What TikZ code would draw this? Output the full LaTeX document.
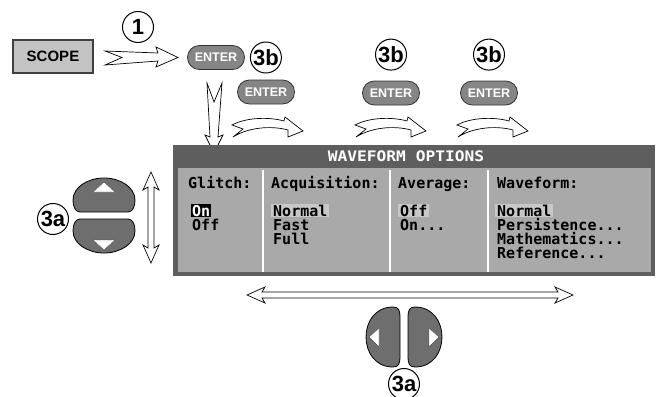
\documentclass[tikz,border=0pt]{standalone}
\usepackage{fontspec}
\setmainfont{Liberation Sans}
\newfontfamily\lcdfont{DejaVu Sans Mono}
\newfontfamily\lcdtitle{DejaVu Sans Mono}[FakeStretch=1.12]
\usetikzlibrary{positioning}

\definecolor{keygray}{HTML}{6E6E6E}
\definecolor{entergray}{HTML}{858585}
\definecolor{scopegray}{HTML}{C3C3C3}
\definecolor{framegray}{HTML}{5E5E5E}
\definecolor{lcdgray}{HTML}{A9A9A9}
\definecolor{selgray}{HTML}{C8C8C8}

\begin{document}
\begin{tikzpicture}[x=1pt, y=-1pt,
	enterbtn/.style={rounded corners=11.9pt, draw=black!80, line width=0.8pt, fill=entergray, text=white, font=\bfseries\fontsize{12.5}{12.5}\selectfont, minimum width=57pt, minimum height=24pt, inner sep=0pt},
	steplabel/.style={circle, draw, line width=1pt, minimum size=31pt, inner sep=0pt, font=\bfseries\fontsize{22}{22}\selectfont},
	lcd/.style={anchor=base west, inner sep=1pt, font=\lcdfont\bfseries\fontsize{15}{15}\selectfont},
	sel/.style={fill=selgray, inner xsep=2pt},
	hollow/.style={draw=black, fill=white, line width=0.7pt},
	keybtn/.style={draw=black, fill=keygray, line width=0.8pt},
	arrowtri/.style={draw=black!70, fill=white, line width=0.4pt}]
		\useasboundingbox (0,0) rectangle (660,396);
		
		% keys on top
		\node[draw=black!75, line width=1.2pt, fill=scopegray, minimum width=80pt, minimum height=33pt, font=\bfseries\fontsize{15}{15}\selectfont] (scope) at (53,56.5) {SCOPE};
		\node[steplabel] (one) at (138,27) {1};
		\node[enterbtn] (e1) at (216,57.5) {ENTER};
		\node[steplabel, right=5pt of e1] (s1) {3b};
		\node[enterbtn] (e2) at (266,92) {ENTER};
		\node[enterbtn] (e3) at (391,93) {ENTER};
		\node[enterbtn] (e4) at (489,93) {ENTER};
		\node[steplabel, above=10pt of e3] (s3) {3b};
		\node[steplabel, above=10pt of e4] (s4) {3b};
		
		\draw[hollow] (105,51) -- (122,57.5) -- (105,65) -- (158,61) -- (156,67) -- (178,57.5) -- (156,47) -- (158,53) -- cycle;
		\draw[hollow] (207,83) -- (214,102) -- (222,83) -- (218,137) -- (223,135) -- (214,153) -- (205,135) -- (210,137) -- cycle;
		\foreach \x in {232,355,457}
			\draw[hollow, shift={(\x,117)}] (0,8) .. controls (15,0) and (38,0) .. (52,4) -- (53,0) -- (71,14) -- (56,20) -- (56,13) .. controls (38,8) and (15,11) .. (1,20) -- (11,12) -- cycle;
		
		% menu window
		\fill[framegray] (173,145) rectangle (655,276);
		\fill[lcdgray] (178,168) rectangle (651,272);
		\foreach \x in {263,390,488}
			\draw[white, line width=2pt] (\x,170) -- (\x,272);
		\node[font=\lcdtitle\bfseries\fontsize{14.5}{14.5}\selectfont, text=white, inner sep=0pt] (title) at (406,156) {WAVEFORM OPTIONS};
		
		\node[lcd] (glitch) at (187,188) {Glitch:};
		\node[lcd, fill=black, text=white] (on) at (191,216) {On};
		\node[lcd] (off) at (191,230) {Off};
		
		\node[lcd] (acq) at (270,188) {Acquisition:};
		\node[lcd, sel] (normal) at (271,216) {Normal};
		\node[lcd] (fast) at (272,230) {Fast};
		\node[lcd] (full) at (272,244) {Full};
		
		\node[lcd] (avg) at (397,188) {Average:};
		\node[lcd, sel] (avgoff) at (398,216) {Off};
		\node[lcd] (avgon) at (399,230) {On...};
		
		\node[lcd] (wave) at (496,188) {Waveform:};
		\node[lcd, sel] (wnormal) at (495,216) {Normal};
		\node[lcd] (persist) at (496,230) {Persistence...};
		\node[lcd] (math) at (496,244) {Mathematics...};
		\node[lcd] (ref) at (496,258) {Reference...};
		
		% up and down keys
		\node[steplabel] (s3a) at (53,219) {3a};
		\draw[keybtn, shift={(104,195)}] (-24,17) -- (24,17) .. controls (29,17) and (31,11) .. (31,5) .. controls (31,-8) and (16,-17) .. (0,-17) .. controls (-16,-17) and (-31,-8) .. (-31,5) .. controls (-31,11) and (-29,17) .. (-24,17) -- cycle;
		\draw[keybtn, shift={(104,236)}, yscale=-1] (-24,17) -- (24,17) .. controls (29,17) and (31,11) .. (31,5) .. controls (31,-8) and (16,-17) .. (0,-17) .. controls (-16,-17) and (-31,-8) .. (-31,5) .. controls (-31,11) and (-29,17) .. (-24,17) -- cycle;
		\draw[arrowtri] (104,182) -- (115,192) -- (93,192) -- cycle;
		\draw[arrowtri] (104,250) -- (115,240) -- (93,240) -- cycle;
		\draw[hollow] (151,172) -- (159,190) -- (154,187) -- (154,248) -- (159,245) -- (151,263) -- (143,245) -- (148,248) -- (148,187) -- (143,190) -- cycle;
		
		% left and right keys
		\draw[hollow] (247,295) -- (265,287) -- (262,292) -- (558,292) -- (555,287) -- (573,295) -- (555,303) -- (558,298) -- (262,298) -- (265,303) -- cycle;
		\draw[keybtn, shift={(383,337)}] (10,-30) .. controls (16,-30) and (17,-26) .. (17,-20) -- (17,20) .. controls (17,26) and (16,30) .. (10,30) .. controls (-8,30) and (-17,15) .. (-17,0) .. controls (-17,-15) and (-8,-30) .. (10,-30) -- cycle;
		\draw[keybtn, shift={(425,337)}, xscale=-1] (10,-30) .. controls (16,-30) and (17,-26) .. (17,-20) -- (17,20) .. controls (17,26) and (16,30) .. (10,30) .. controls (-8,30) and (-17,15) .. (-17,0) .. controls (-17,-15) and (-8,-30) .. (10,-30) -- cycle;
		\draw[arrowtri] (369,337) -- (379,328) -- (379,347) -- cycle;
		\draw[arrowtri] (439,337) -- (429,328) -- (429,347) -- cycle;
		\node[steplabel] (s3a2) at (404,384) {3a};
	\end{tikzpicture}
\end{document}
